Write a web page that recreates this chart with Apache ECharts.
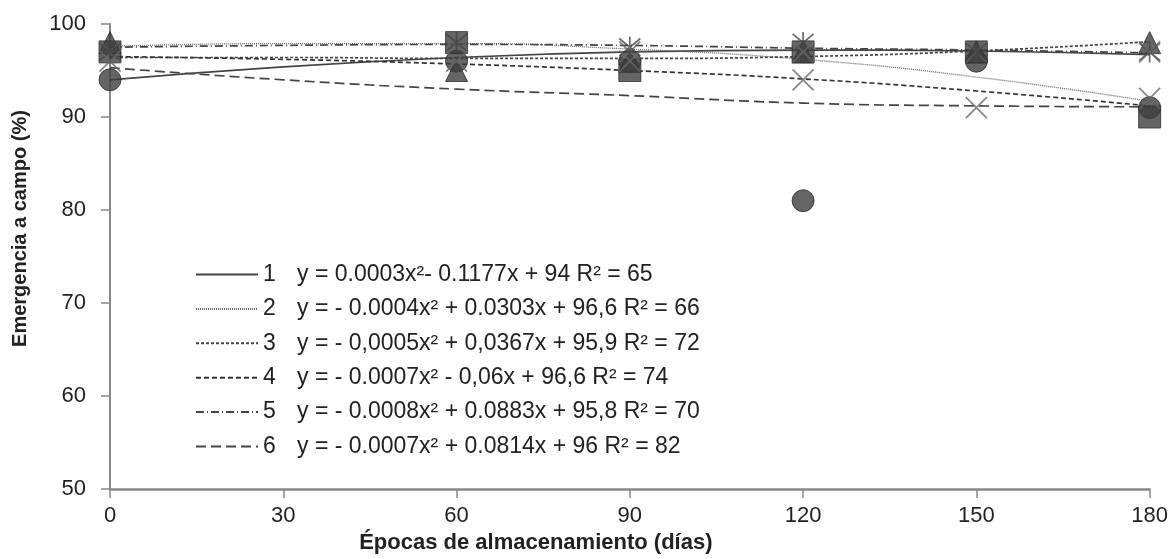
<!DOCTYPE html>
<html>
<head>
<meta charset="utf-8">
<script src="https://cdn.jsdelivr.net/npm/echarts@6/dist/echarts.min.js"></script>
<style>
html,body{margin:0;padding:0;background:#fff;}
#c{width:1171px;height:559px;}
</style>
</head>
<body>
<div id="c"></div>
<script>
// ---- data ----
var days = [0, 30, 60, 90, 120, 150, 180];
var pointDays = [0, 60, 90, 120, 150, 180];
var xTicks = [0, 30, 60, 90, 120, 150, 180];
var yTicks = [50, 60, 70, 80, 90, 100];

var obs1 = [94, 96, 96, 81, 96, 91];        // circle
var obs2 = [97, 98, 95, 97, 97, 90];        // square
var obs3 = [98, 95, 96, 97, 97, 98];        // triangle
var obs4 = [97, 98, 97, 94, 97, 92];        // x
var obs5 = [97, 98, 97.5, 98, 97, 97];      // asterisk
var obs6 = [96, 96, 96, 97, 91, 97];        // x (light)

// fitted curves
var fit1 = [94.0, 95.4, 96.4, 97.0, 97.2, 97.1, 96.7];
var fit2 = [97.6, 97.9, 97.9, 97.3, 96.2, 94.3, 91.7];
var fit3 = [96.4, 96.4, 96.3, 96.3, 96.5, 97.1, 98.1];
var fit4 = [96.5, 96.2, 95.7, 95.0, 94.1, 92.8, 91.2];
var fit5 = [97.5, 97.7, 97.8, 97.7, 97.4, 97.2, 96.9];
var fit6 = [95.3, 94.0, 93.0, 92.3, 91.5, 91.2, 91.1];

var seriesIds = ['1', '2', '3', '4', '5', '6'];
var equations = [
  'y = 0.0003x²- 0.1177x + 94 R² = 65',
  'y = - 0.0004x² + 0.0303x + 96,6 R² = 66',
  'y = - 0,0005x² + 0,0367x + 95,9 R² = 72',
  'y = - 0.0007x² - 0,06x + 96,6 R² = 74',
  'y = - 0.0008x² + 0.0883x + 95,8 R² = 70',
  'y = - 0.0007x² + 0.0814x + 96 R² = 82'
];
var xName = 'Épocas de almacenamiento (días)';
var yName = 'Emergencia a campo (%)';

// ---- build ----
var FONT = '"Liberation Sans", Arial, sans-serif';
var fits = [fit1, fit2, fit3, fit4, fit5, fit6];
var obs = [obs1, obs2, obs3, obs4, obs5, obs6];
var dashes = ['solid', [1, 1], [3, 2], [5, 3], [8, 3, 1, 3], [10, 5]];
var lineColors = ['#444', '#666', '#444', '#333', '#444', '#444'];
var xPath = 'path://M0,0L10,10M10,0L0,10';
var starPath = 'path://M0,0L10,10M10,0L0,10M5,-1L5,11';
var symbols = ['circle', 'rect', 'triangle', xPath, starPath, xPath];

function pairs(xs, ys) { return xs.map(function (x, i) { return [x, ys[i]]; }); }

var series = [];
fits.forEach(function (f, i) {
  series.push({
    name: seriesIds[i],
    type: 'line',
    data: pairs(days, f),
    smooth: true,
    symbol: 'none',
    lineStyle: { color: lineColors[i], width: i === 1 ? 1.3 : 1.7, type: dashes[i] },
    itemStyle: { color: lineColors[i] },
    z: 3
  });
});
obs.forEach(function (o, i) {
  var isLine = (i >= 3);
  series.push({
    name: 'obs' + seriesIds[i],
    type: 'scatter',
    data: pairs(pointDays, o),
    symbol: symbols[i],
    symbolSize: isLine ? 21 : 22,
    itemStyle: isLine
      ? { color: 'rgba(0,0,0,0)', borderColor: i === 4 ? '#444' : '#666', borderWidth: 1.7 }
      : { color: '#3e3e3e', borderColor: '#2e2e2e', borderWidth: 1 },
    z: isLine ? 5 : 4
  });
});

var chart = echarts.init(document.getElementById('c'), null, { renderer: 'canvas' });
chart.setOption({
  animation: false,
  backgroundColor: '#fff',
  textStyle: { fontFamily: FONT },
  grid: { left: 110, right: 21, top: 24, bottom: 65, containLabel: false },
  legend: {
    show: true,
    data: seriesIds,
    orient: 'vertical',
    left: 190,
    top: 258,
    itemWidth: 62,
    itemHeight: 14,
    itemGap: 11.4,
    itemStyle: { opacity: 0 },
    formatter: function (name) {
      var i = seriesIds.indexOf(name);
      return '{n|' + name + '}{e|' + equations[i] + '}';
    },
    textStyle: {
      fontFamily: FONT,
      fontSize: 23,
      color: '#222',
      rich: {
        n: { width: 34, fontSize: 23, lineHeight: 24, color: '#222', fontFamily: FONT },
        e: { fontSize: 23, lineHeight: 24, color: '#222', fontFamily: FONT }
      }
    }
  },
  xAxis: {
    type: 'value',
    min: 0, max: 180, interval: 30,
    name: xName,
    nameLocation: 'middle',
    nameGap: 38,
    nameTextStyle: { fontFamily: FONT, fontSize: 22, fontWeight: 'bold', color: '#222', padding: [0, 188, 0, 0] },
    axisLine: { show: true, lineStyle: { color: '#888', width: 2.5 } },
    axisTick: { show: true, length: 9, lineStyle: { color: '#888', width: 1.5 } },
    axisLabel: { margin: 16, fontSize: 22, color: '#222', fontFamily: FONT,
      formatter: function (v) { return xTicks.indexOf(v) >= 0 ? String(v) : ''; } },
    splitLine: { show: false }
  },
  yAxis: {
    type: 'value',
    min: 50, max: 100, interval: 10,
    name: yName,
    nameLocation: 'middle',
    nameGap: 80,
    nameTextStyle: { fontFamily: FONT, fontSize: 20, fontWeight: 'bold', color: '#222', padding: [0, 0, 0, 56] },
    axisLine: { show: true, lineStyle: { color: '#888', width: 2 } },
    axisTick: { show: true, length: 9, lineStyle: { color: '#888', width: 1.5 } },
    axisLabel: { margin: 24, fontSize: 22, color: '#222', fontFamily: FONT,
      formatter: function (v) { return yTicks.indexOf(v) >= 0 ? String(v) : ''; } },
    splitLine: { show: false }
  },
  series: series
});
</script>
</body>
</html>
